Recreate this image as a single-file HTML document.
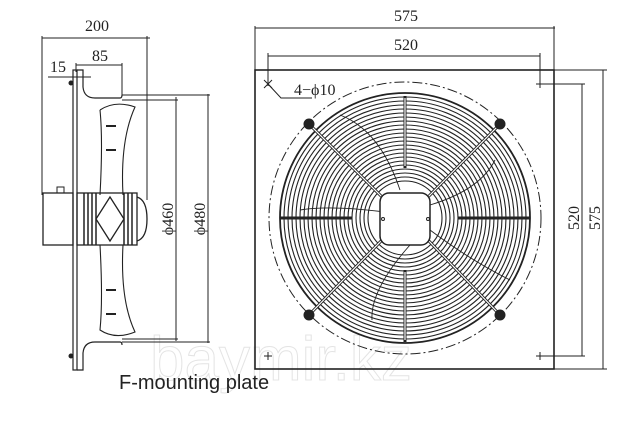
<!DOCTYPE html>
<html><head><meta charset="utf-8"><style>
html,body{margin:0;padding:0;background:#fff;}
svg{display:block;}
text{font-family:"Liberation Serif",serif;fill:#222;}
</style></head><body>
<svg width="640" height="433" viewBox="0 0 640 433" xmlns="http://www.w3.org/2000/svg">
<rect width="640" height="433" fill="#fff"/>
<!-- watermark -->
<text x="150" y="380" font-size="62" style="font-family:'Liberation Sans',sans-serif;fill:none;stroke:#e4e4e4;stroke-width:1">baymir.kz</text>

<g stroke="#222" fill="none" stroke-width="1">
<!-- LEFT VIEW dims -->
<line x1="42" y1="38" x2="150" y2="38"/>
<line x1="42" y1="36" x2="42" y2="195"/>
<line x1="147" y1="36" x2="147" y2="200"/>
<line x1="76" y1="65" x2="122" y2="65"/>
<line x1="76" y1="63" x2="76" y2="72"/>
<line x1="122" y1="63" x2="122" y2="95"/>
<line x1="48" y1="77" x2="91" y2="77"/>
<!-- plate -->
<rect x="73" y="70" width="4" height="300" stroke-width="1.2"/>
<circle cx="71" cy="83" r="2" fill="#222"/>
<circle cx="71" cy="356" r="2" fill="#222"/>
<!-- shroud -->
<path d="M77 70 L83 70 L83 87 Q84 98 95 98 L120 98 Q122 98 122 95" stroke-width="1.2"/>
<path d="M77 370 L83 370 L83 353 Q84 342 95 342 L120 342 Q122 342 122 345" stroke-width="1.2"/>
<!-- blades -->
<path d="M100 110 Q115 100 135 107 Q120 140 123 195 M123 245 Q120 300 135 332 Q115 340 100 330 Q103 300 100 245 M100 195 Q103 140 100 110" stroke-width="1.1"/>
<path d="M106 126 h10 M106 150 h10 M106 290 h10 M106 314 h10" stroke-width="2"/>
<!-- motor -->
<rect x="43" y="193" width="30" height="52" stroke-width="1.3"/>
<path d="M57 193 v-6 h7 v6"/>
<rect x="77" y="193" width="60" height="52" stroke-width="1.3"/>
<path d="M137 197 Q147 200 147 219 Q147 238 137 241" stroke-width="1.3"/>
<path d="M84 193v52 M88 193v52 M92 193v52 M96 193v52 M124 193v52 M128 193v52 M132 193v52" stroke-width="1.5"/>
<path d="M110 197 L124 219 L110 241 L96 219 Z" fill="#fff" stroke-width="1.3"/>
<!-- diameter dims -->
<line x1="122" y1="95" x2="210" y2="95"/>
<line x1="122" y1="100" x2="178" y2="100"/>
<line x1="122" y1="342" x2="210" y2="342"/>
<line x1="122" y1="339" x2="178" y2="339"/>
<line x1="176" y1="97" x2="176" y2="341"/>
<line x1="208" y1="94" x2="208" y2="343"/>

<!-- RIGHT VIEW -->
<rect x="255" y="70" width="299" height="299" stroke-width="1.6"/>
<line x1="255" y1="28" x2="555" y2="28"/>
<line x1="255" y1="26" x2="255" y2="70"/>
<line x1="554" y1="26" x2="554" y2="70"/>
<line x1="268" y1="56" x2="540" y2="56"/>
<line x1="268" y1="53" x2="268" y2="86"/>
<line x1="540" y1="53" x2="540" y2="86"/>
<line x1="554" y1="70" x2="607" y2="70"/>
<line x1="554" y1="369" x2="607" y2="369"/>
<line x1="540" y1="84" x2="585" y2="84"/>
<line x1="540" y1="356" x2="585" y2="356"/>
<line x1="582" y1="84" x2="582" y2="356"/>
<line x1="603" y1="70" x2="603" y2="369"/>
<path d="M264 80 l8 8 M272 80 l-8 8 M536 84 h8 M540 80 v8 M536 356 h8 M540 352 v8 M264 356 h8 M268 352 v8"/>
<path d="M268 84 L281 98 L312 98"/>
<circle cx="405" cy="218" r="136" stroke-dasharray="10 3 2 3"/>
<!-- grille rings -->
<g stroke-width="1.1">
<circle cx="405" cy="218" r="125" stroke-width="1.8"/>
<circle cx="405" cy="218" r="121"/><circle cx="405" cy="218" r="117"/><circle cx="405" cy="218" r="113"/><circle cx="405" cy="218" r="109"/><circle cx="405" cy="218" r="105"/><circle cx="405" cy="218" r="101"/><circle cx="405" cy="218" r="97"/><circle cx="405" cy="218" r="93"/><circle cx="405" cy="218" r="89"/><circle cx="405" cy="218" r="85"/><circle cx="405" cy="218" r="81"/><circle cx="405" cy="218" r="77"/><circle cx="405" cy="218" r="73"/><circle cx="405" cy="218" r="69"/><circle cx="405" cy="218" r="65"/><circle cx="405" cy="218" r="61"/><circle cx="405" cy="218" r="57"/><circle cx="405" cy="218" r="53"/><circle cx="405" cy="218" r="49"/><circle cx="405" cy="218" r="45"/><circle cx="405" cy="218" r="41"/><circle cx="405" cy="218" r="37"/>
</g>
<!-- blades faint -->
<path d="M400 190 Q380 130 340 115 M300 210 Q330 205 385 212 M410 245 Q370 290 372 320 M430 205 Q480 190 495 160 M430 230 Q470 260 510 280" stroke-width="0.9"/>
<!-- spokes -->
<g stroke-width="3" stroke="#222">
<line x1="309" y1="124" x2="382" y2="197"/>
<line x1="500" y1="124" x2="428" y2="197"/>
<line x1="309" y1="315" x2="382" y2="240"/>
<line x1="500" y1="315" x2="428" y2="240"/>
<line x1="405" y1="96" x2="405" y2="168"/>
<line x1="405" y1="270" x2="405" y2="342"/>
<line x1="280" y1="218" x2="352" y2="218"/>
<line x1="458" y1="218" x2="530" y2="218"/>
</g>
<g stroke-width="1.2" stroke="#fff">
<line x1="309" y1="124" x2="382" y2="197"/>
<line x1="500" y1="124" x2="428" y2="197"/>
<line x1="309" y1="315" x2="382" y2="240"/>
<line x1="500" y1="315" x2="428" y2="240"/>
<line x1="405" y1="98" x2="405" y2="166"/>
<line x1="405" y1="272" x2="405" y2="340"/>
</g>
<rect x="380" y="193" width="50" height="52" rx="9" fill="#fff" stroke-width="1.5"/>
<circle cx="383" cy="219" r="1.5"/><circle cx="428" cy="219" r="1.5"/>
<circle cx="309" cy="124" r="5" fill="#222"/>
<circle cx="500" cy="124" r="5" fill="#222"/>
<circle cx="309" cy="315" r="5" fill="#222"/>
<circle cx="500" cy="315" r="5" fill="#222"/>
</g>

<g font-size="16">
<text x="97" y="31" text-anchor="middle">200</text>
<text x="100" y="61" text-anchor="middle">85</text>
<text x="58" y="72" text-anchor="middle">15</text>
<text x="406" y="21" text-anchor="middle">575</text>
<text x="406" y="50" text-anchor="middle">520</text>
<text x="294" y="95">4−ϕ10</text>
<text transform="translate(173,219) rotate(-90)" text-anchor="middle">ϕ460</text>
<text transform="translate(205,219) rotate(-90)" text-anchor="middle">ϕ480</text>
<text transform="translate(579,218) rotate(-90)" text-anchor="middle">520</text>
<text transform="translate(600,218) rotate(-90)" text-anchor="middle">575</text>
</g>
<text x="119" y="389" font-size="20" style="font-family:'Liberation Sans',sans-serif">F-mounting plate</text>
</svg>
</body></html>
